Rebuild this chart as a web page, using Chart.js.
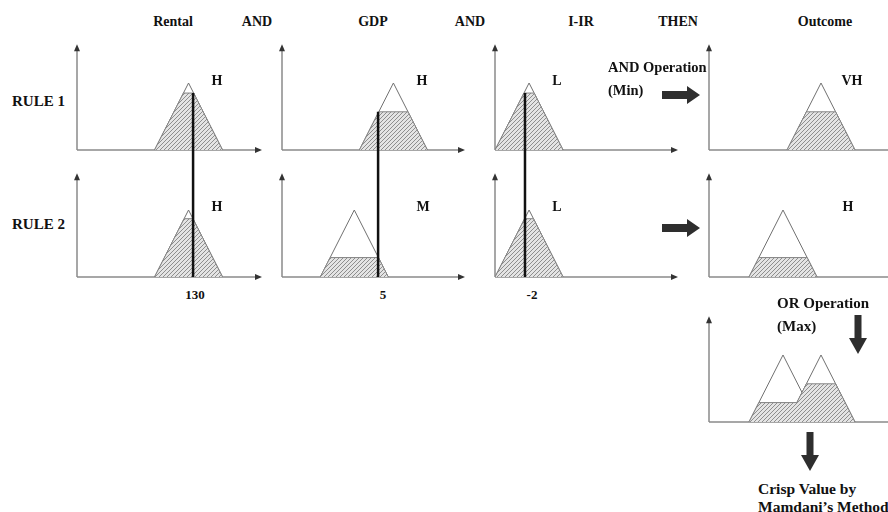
<!DOCTYPE html>
<html>
<head>
<meta charset="utf-8">
<script src="https://cdn.jsdelivr.net/npm/chart.js@4.4.0/dist/chart.umd.min.js"></script>
<style>
html, body { margin: 0; padding: 0; width: 888px; height: 512px; overflow: hidden; background: #fff; }
canvas { position: absolute; }
.t { position: absolute; font: bold 14px "Liberation Serif", "Times New Roman", serif; color: #111; white-space: nowrap; line-height: 1; }
.c { transform: translate(-50%, -50%); }
.l { transform: translate(0, -50%); }
svg { position: absolute; left: 0; top: 0; }
</style>
</head>
<body>
<svg width="888" height="512" id="arrows"></svg>
<script>
// ---- data ----
const inputNames = ['Rental', 'GDP', 'I-IR'];
const crispInputs = [130, 5, -2];
// membership functions [left foot, peak, right foot]
const rentalH = [96, 126, 156];
const gdpM = [1.6, 3.6, 5.6];
const gdpH = [3.9, 5.9, 7.9];
const irL = [-6.4, -1.4, 3.6];
const outH = [20, 37, 54];
const outVH = [39, 56, 73];
const rule1Terms = ['H', 'H', 'L', 'VH'];
const rule2Terms = ['H', 'M', 'L', 'H'];
// membership degree of each crisp input, per rule
const rule1Degrees = [0.85, 0.57, 0.85];
const rule2Degrees = [0.87, 0.29, 0.87];
// firing strength (min) of each rule
const ruleStrength = [0.57, 0.29];

// ---- layout ----
const pad = 7;
const cols = [
  { axisX: 77, len: 185, min: 27.6, max: 190.8 },
  { axisX: 282, len: 183, min: -0.65, max: 10.11 },
  { axisX: 495, len: 183, min: -6.41, max: 20.5 },
  { axisX: 709, len: 200, min: 0, max: 100 }
];
const rows = [
  { top: 40, height: 126, yMin: -0.2388, yMax: 1.6418, axisTop: 1.58 },
  { top: 166, height: 116, yMin: -0.0746, yMax: 1.6567, axisTop: 1.55 },
  { top: 306, height: 122, yMin: -0.0896, yMax: 1.7313, axisTop: 1.58 }
];

// hatch fill
const tile = document.createElement('canvas');
tile.width = 4; tile.height = 4;
const tc = tile.getContext('2d');
tc.fillStyle = '#e4e4e4';
tc.fillRect(0, 0, 4, 4);
tc.strokeStyle = '#8e8e8e';
tc.lineWidth = 1;
tc.beginPath();
tc.moveTo(0, 4); tc.lineTo(4, 0);
tc.moveTo(-1, 1); tc.lineTo(1, -1);
tc.moveTo(3, 5); tc.lineTo(5, 3);
tc.stroke();
const hatch = tc.createPattern(tile, 'repeat');

const axesPlugin = {
  id: 'axes',
  beforeDatasetsDraw(chart, args, o) {
    const { ctx, chartArea: a, scales: { y } } = chart;
    const y0 = y.getPixelForValue(0);
    const yt = y.getPixelForValue(o.top);
    const x0 = a.left;
    ctx.save();
    ctx.strokeStyle = '#8a8a8a';
    ctx.lineWidth = 1.5;
    ctx.beginPath();
    ctx.moveTo(x0, y0); ctx.lineTo(a.right - 5, y0);
    ctx.moveTo(x0, y0); ctx.lineTo(x0, yt + 5);
    ctx.stroke();
    ctx.fillStyle = '#333';
    ctx.beginPath();
    ctx.moveTo(a.right, y0); ctx.lineTo(a.right - 7, y0 - 3); ctx.lineTo(a.right - 7, y0 + 3);
    ctx.closePath(); ctx.fill();
    ctx.beginPath();
    ctx.moveTo(x0, yt); ctx.lineTo(x0 - 3, yt + 7); ctx.lineTo(x0 + 3, yt + 7);
    ctx.closePath(); ctx.fill();
    ctx.restore();
  }
};

function tri(m) {
  return { data: [{ x: m[0], y: 0 }, { x: m[1], y: 1 }, { x: m[2], y: 0 }],
    borderColor: '#707070', borderWidth: 1, fill: false };
}
function cut(m, d) {
  return [{ x: m[0], y: 0 }, { x: m[0] + d * (m[1] - m[0]), y: d },
          { x: m[2] - d * (m[2] - m[1]), y: d }, { x: m[2], y: 0 }];
}
function shade(points) {
  return { data: points, borderColor: '#858585', borderWidth: 1, fill: 'origin', backgroundColor: hatch };
}
function crispLine(x, y1, y2) {
  return { data: [{ x: x, y: y1 }, { x: x, y: y2 }], borderColor: '#111', borderWidth: 2.5, fill: false };
}

function panel(col, row, datasets) {
  const c = cols[col], r = rows[row];
  const cv = document.createElement('canvas');
  cv.width = c.len + 2 * pad;
  cv.height = r.height;
  cv.style.left = (c.axisX - pad) + 'px';
  cv.style.top = r.top + 'px';
  document.body.appendChild(cv);
  new Chart(cv, {
    type: 'scatter',
    data: { datasets: datasets },
    options: {
      responsive: false,
      animation: false,
      showLine: true,
      layout: { padding: { left: pad, right: pad, top: 0, bottom: 0 } },
      elements: { point: { radius: 0 }, line: { tension: 0 } },
      scales: {
        x: { type: 'linear', display: false, min: c.min, max: c.max },
        y: { type: 'linear', display: false, min: r.yMin, max: r.yMax }
      },
      plugins: { legend: { display: false }, tooltip: { enabled: false }, axes: { top: r.axisTop } }
    },
    plugins: [axesPlugin]
  });
}

const r1 = rows[0], r2 = rows[1];
// rule 1
panel(0, 0, [crispLine(crispInputs[0], rule1Degrees[0], r1.yMin), shade(cut(rentalH, rule1Degrees[0])), tri(rentalH)]);
panel(1, 0, [crispLine(crispInputs[1], rule1Degrees[1], r1.yMin), shade(cut(gdpH, rule1Degrees[1])), tri(gdpH)]);
panel(2, 0, [crispLine(crispInputs[2], rule1Degrees[2], r1.yMin), shade(cut(irL, rule1Degrees[2])), tri(irL)]);
panel(3, 0, [shade(cut(outVH, ruleStrength[0])), tri(outVH)]);
// rule 2
panel(0, 1, [crispLine(crispInputs[0], r2.yMax, 0), shade(cut(rentalH, rule2Degrees[0])), tri(rentalH)]);
panel(1, 1, [crispLine(crispInputs[1], r2.yMax, 0), shade(cut(gdpM, rule2Degrees[1])), tri(gdpM)]);
panel(2, 1, [crispLine(crispInputs[2], r2.yMax, 0), shade(cut(irL, rule2Degrees[2])), tri(irL)]);
panel(3, 1, [shade(cut(outH, ruleStrength[1])), tri(outH)]);
// aggregation (max)
const lo = ruleStrength[1], hi = ruleStrength[0];
const agg = [
  { x: outH[0], y: 0 },
  { x: outH[0] + lo * (outH[1] - outH[0]), y: lo },
  { x: outVH[0] + lo * (outVH[1] - outVH[0]), y: lo },
  { x: outVH[0] + hi * (outVH[1] - outVH[0]), y: hi },
  { x: outVH[2] - hi * (outVH[2] - outVH[1]), y: hi },
  { x: outVH[2], y: 0 }
];
panel(3, 2, [shade(agg), tri(outH), tri(outVH)]);

// ---- text ----
function text(s, x, y, cls, size) {
  const d = document.createElement('div');
  d.className = 't ' + cls;
  d.textContent = s;
  d.style.left = x + 'px';
  d.style.top = y + 'px';
  if (size) d.style.fontSize = size + 'px';
  document.body.appendChild(d);
}
const titleX = [173, 373, 581];
inputNames.forEach((n, i) => text(n, titleX[i], 22, 'c'));
text('AND', 257, 22, 'c');
text('AND', 470, 22, 'c');
text('THEN', 678, 22, 'c');
text('Outcome', 825, 22, 'c');
text('RULE 1', 12, 101, 'l', 15);
text('RULE 2', 12, 224, 'l', 15);
const termX1 = [217, 422, 557, 852];
const termX2 = [217, 423, 557, 848];
rule1Terms.forEach((t, i) => text(t, termX1[i], 81, 'c', 14));
rule2Terms.forEach((t, i) => text(t, termX2[i], 207, 'c', 14));
const crispX = [195, 383, 532];
crispInputs.forEach((v, i) => text(String(v), crispX[i], 294, 'c', 13));
text('AND Operation', 608, 67, 'l', 14.5);
text('(Min)', 608, 90, 'l', 14.5);
text('OR Operation', 777, 303, 'l', 15);
text('(Max)', 777, 326, 'l', 15);
text('Crisp Value by', 758, 489, 'l', 15.5);
text('Mamdani\u2019s Method', 758, 507, 'l', 15.5);

// ---- block arrows ----
const svg = document.getElementById('arrows');
function poly(pts) {
  const p = document.createElementNS('http://www.w3.org/2000/svg', 'polygon');
  p.setAttribute('points', pts.map(q => q.join(',')).join(' '));
  p.setAttribute('fill', '#2e2e2e');
  svg.appendChild(p);
}
function rightArrow(x, y) {
  poly([[x, y - 4], [x + 25, y - 4], [x + 25, y - 9], [x + 38, y], [x + 25, y + 9], [x + 25, y + 4], [x, y + 4]]);
}
function downArrow(x, y) {
  poly([[x - 3.5, y], [x + 3.5, y], [x + 3.5, y + 23], [x + 9, y + 23], [x, y + 39], [x - 9, y + 23], [x - 3.5, y + 23]]);
}
rightArrow(662, 95);
rightArrow(662, 228);
downArrow(858, 315);
downArrow(810, 432);
</script>
</body>
</html>
